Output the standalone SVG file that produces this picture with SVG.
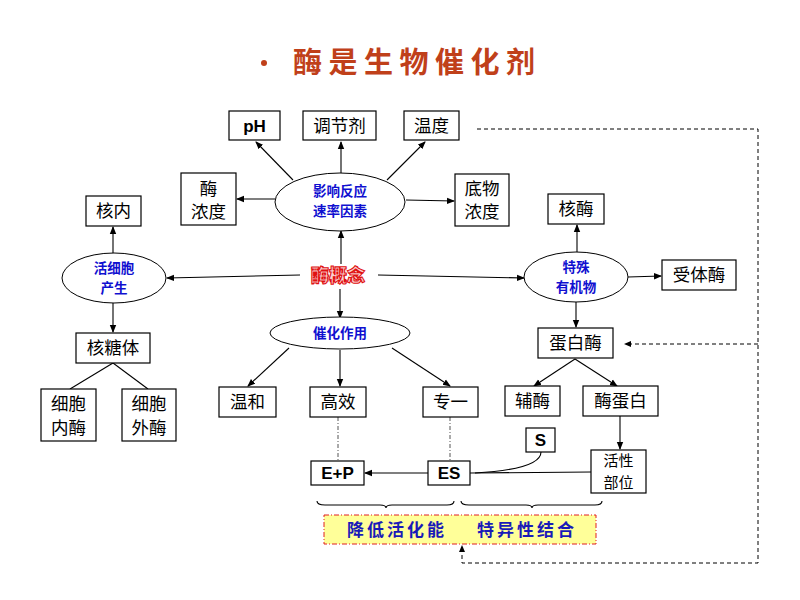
<svg xmlns="http://www.w3.org/2000/svg" width="800" height="600" viewBox="0 0 800 600">
<style>
.box{fill:#fff;stroke:#000;stroke-width:1.2}
.t{font-family:"Noto Sans CJK SC","Liberation Serif",serif;font-size:17.5px;fill:#000;text-anchor:middle}
.lat{font-family:"Liberation Sans",Arial,sans-serif;font-weight:bold;font-size:17px;fill:#000;text-anchor:middle}
.ell{fill:#fff;stroke:#000;stroke-width:1}
.bt{font-family:"Noto Sans CJK SC",sans-serif;font-weight:bold;font-size:13.5px;fill:#1010d0;text-anchor:middle}
.ln{stroke:#000;stroke-width:1.1;fill:none}
.ar{stroke:#000;stroke-width:1.1;fill:none;marker-end:url(#ah)}
.dd{stroke:#555;stroke-width:1;fill:none;stroke-dasharray:4 2 1 2}
.ds{stroke:#000;stroke-width:1;fill:none;stroke-dasharray:4 3}
.sum{font-family:"Noto Sans CJK SC",sans-serif;font-weight:bold;font-size:17px;fill:#1a1ab8;text-anchor:middle;letter-spacing:3px}
</style>
<defs>
<marker id="ah" markerWidth="8" markerHeight="8" refX="7" refY="4" orient="auto" markerUnits="userSpaceOnUse">
<path d="M0,0.8 L8,4 L0,7.2 Z" fill="#000"/>
</marker>
</defs>
<rect width="800" height="600" fill="#fff"/>
<g id="title">
<circle cx="264" cy="63" r="3" fill="#c0401a"/>
<text x="293" y="73" font-family="Noto Sans CJK SC,sans-serif" font-weight="bold" font-size="29" letter-spacing="6.5" fill="#c0401a">酶是生物催化剂</text>
</g>
<g id="connectors">
<line class="ar" x1="293" y1="180" x2="256" y2="142"/>
<line class="ar" x1="341" y1="173" x2="341" y2="142"/>
<line class="ar" x1="387" y1="180" x2="425" y2="142"/>
<line class="ar" x1="275" y1="199" x2="237" y2="199"/>
<line class="ar" x1="406" y1="200" x2="454" y2="201"/>
<line class="ar" x1="341" y1="264" x2="341" y2="231"/>
<line class="ar" x1="300" y1="275" x2="167" y2="278"/>
<line class="ar" x1="378" y1="275" x2="524" y2="278"/>
<line class="ar" x1="340" y1="289" x2="340" y2="318"/>
<line class="ar" x1="113" y1="254" x2="113" y2="227"/>
<line class="ar" x1="113" y1="303" x2="113" y2="332"/>
<line class="ln" x1="113" y1="363" x2="70" y2="389"/>
<line class="ln" x1="113" y1="363" x2="148" y2="389"/>
<line class="ar" x1="289" y1="348" x2="248" y2="386"/>
<line class="ar" x1="340" y1="350" x2="340" y2="386"/>
<line class="ar" x1="392" y1="348" x2="450" y2="386"/>
<line class="ar" x1="577" y1="252" x2="577" y2="225"/>
<line class="ar" x1="628" y1="277" x2="661" y2="276"/>
<line class="ar" x1="576" y1="302" x2="576" y2="327"/>
<line class="ar" x1="575" y1="359" x2="534" y2="386"/>
<line class="ar" x1="575" y1="359" x2="617" y2="386"/>
<line class="ar" x1="620" y1="416" x2="620" y2="449"/>
<line class="ln" x1="470" y1="473" x2="591" y2="472"/>
<path class="ln" d="M541,452 C541,466 510,471 475,473"/>
<line class="ar" x1="428" y1="473" x2="365" y2="473"/>
<line class="dd" x1="338" y1="417" x2="338" y2="461"/>
<line class="dd" x1="450" y1="417" x2="450" y2="461"/>
<path class="ds" d="M477,129 L758,129 L758,563 L462,563 L462,548"/>
<path d="M462,545 L459,552 L465,552 Z" fill="#000"/>
<path class="ds" d="M758,344 L630,344"/>
<path d="M624,344 L631,341 L631,347 Z" fill="#000"/>
<path class="ln" d="M317,501 Q317,505 325,505 L380,505 Q386,505 386,508 Q386,505 392,505 L447,505 Q454,505 454,501"/>
<path class="ln" d="M461,501 Q461,505 469,505 L526,505 Q532,505 532,508 Q532,505 538,505 L595,505 Q602,505 602,501"/>
</g>
<g id="n-ph"><rect class="box" x="229" y="111" width="51" height="29"/><text class="lat" x="254.5" y="132">pH</text></g>
<g id="n-tiaojieji"><rect class="box" x="303" y="111" width="73" height="29"/><text class="t" x="339.5" y="132">调节剂</text></g>
<g id="n-wendu"><rect class="box" x="404" y="111" width="55" height="29"/><text class="t" x="431.5" y="132">温度</text></g>
<g id="n-meinongdu"><rect class="box" x="181" y="173" width="55" height="52"/><text class="t" x="208.5" y="195">酶</text><text class="t" x="208.5" y="218">浓度</text></g>
<g id="n-yingxiang"><ellipse class="ell" cx="340" cy="202" rx="65" ry="29"/><text class="bt" x="340" y="196">影响反应</text><text class="bt" x="340" y="216">速率因素</text></g>
<g id="n-diwu"><rect class="box" x="455" y="174" width="54" height="52"/><text class="t" x="482" y="195">底物</text><text class="t" x="482" y="218">浓度</text></g>
<g id="n-henei"><rect class="box" x="86" y="196" width="55" height="30"/><text class="t" x="113.5" y="217">核内</text></g>
<g id="n-huoxibao"><ellipse class="ell" cx="114" cy="278" rx="52" ry="25"/><text class="bt" x="114" y="273">活细胞</text><text class="bt" x="114" y="293">产生</text></g>
<g id="n-meigainian"><text x="338" y="282" font-family="Noto Sans CJK SC,sans-serif" font-weight="900" font-size="18" fill="#fbd0d0" stroke="#e01010" stroke-width="1.1" text-anchor="middle">酶概念</text></g>
<g id="n-hetangti"><rect class="box" x="76" y="333" width="74" height="30"/><text class="t" x="113" y="354">核糖体</text></g>
<g id="n-neimei"><rect class="box" x="41" y="389" width="55" height="52"/><text class="t" x="68.5" y="410">细胞</text><text class="t" x="68.5" y="434">内酶</text></g>
<g id="n-waimei"><rect class="box" x="122" y="389" width="54" height="52"/><text class="t" x="149" y="410">细胞</text><text class="t" x="149" y="434">外酶</text></g>
<g id="n-cuihua"><ellipse class="ell" cx="340" cy="333" rx="70" ry="16"/><text class="bt" x="340" y="338">催化作用</text></g>
<g id="n-wenhe"><rect class="box" x="219" y="387" width="57" height="30"/><text class="t" x="247.5" y="408">温和</text></g>
<g id="n-gaoxiao"><rect class="box" x="310" y="387" width="56" height="30"/><text class="t" x="338" y="408">高效</text></g>
<g id="n-zhuanyi"><rect class="box" x="423" y="387" width="55" height="30"/><text class="t" x="450.5" y="408">专一</text></g>
<g id="n-teshu"><ellipse class="ell" cx="576" cy="277" rx="52" ry="25"/><text class="bt" x="576" y="272">特殊</text><text class="bt" x="576" y="292">有机物</text></g>
<g id="n-hemei"><rect class="box" x="548" y="194" width="56" height="30"/><text class="t" x="576" y="215">核酶</text></g>
<g id="n-shoutimei"><rect class="box" x="662" y="260" width="74" height="30"/><text class="t" x="699" y="281">受体酶</text></g>
<g id="n-danbaimei"><rect class="box" x="538" y="328" width="75" height="30"/><text class="t" x="575.5" y="349">蛋白酶</text></g>
<g id="n-fumei"><rect class="box" x="505" y="386" width="55" height="30"/><text class="t" x="532.5" y="407">辅酶</text></g>
<g id="n-meidanbai"><rect class="box" x="583" y="386" width="75" height="30"/><text class="t" x="620.5" y="407">酶蛋白</text></g>
<g id="n-s"><rect class="box" x="526" y="428" width="29" height="24"/><text class="lat" x="540.5" y="446">S</text></g>
<g id="n-huoxing"><rect class="box" x="591" y="450" width="55" height="43"/><text class="t" x="618.5" y="466" style="font-size:15px">活性</text><text class="t" x="618.5" y="488" style="font-size:15px">部位</text></g>
<g id="n-es"><rect class="box" x="428" y="461" width="42" height="24"/><text class="lat" x="449" y="479">ES</text></g>
<g id="n-ep"><rect class="box" x="311" y="461" width="53" height="24"/><text class="lat" x="337.5" y="479">E+P</text></g>
<g id="n-summary"><rect x="324" y="515" width="272" height="29" fill="#ffff99" stroke="#e02020" stroke-width="1" stroke-dasharray="5 2 1 2"/><text class="sum" x="397" y="536">降低活化能</text><text class="sum" x="527" y="536">特异性结合</text></g>
</svg>
